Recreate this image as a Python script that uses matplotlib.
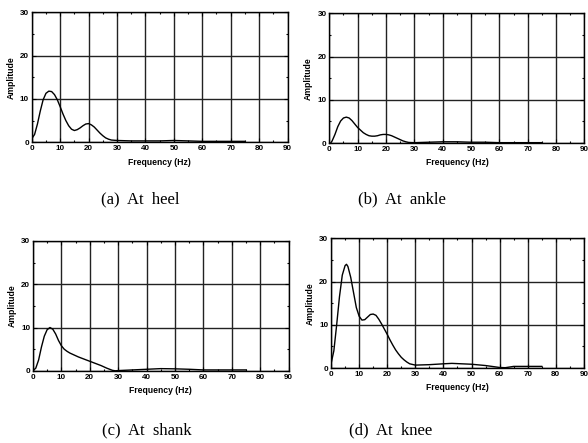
import matplotlib.pyplot as plt
from matplotlib.ticker import MultipleLocator

# frequency / amplitude
heel_f = [0, 1, 2, 3, 4, 5, 6, 7, 8, 9, 10, 11, 12, 13, 14, 15, 16, 17, 18, 19, 20,
          21, 22, 23, 24, 25, 26, 27, 28, 30, 35, 40, 45, 50, 55, 60, 65, 70, 75]
heel_a = [0.8, 1.8, 4.2, 7.2, 9.8, 11.3, 11.8, 11.7, 11.0, 9.8, 8.2, 6.5, 5.0, 3.8, 3.0,
          2.7, 2.9, 3.3, 3.8, 4.2, 4.3, 4.0, 3.5, 2.8, 2.1, 1.5, 1.0, 0.7, 0.5, 0.4, 0.3,
          0.3, 0.3, 0.4, 0.3, 0.2, 0.2, 0.2, 0.2]

ankle_f = [0.5, 1, 2, 3, 4, 5, 6, 7, 8, 9, 10, 11, 12, 13, 14, 15, 16, 17, 18, 19, 20,
           21, 22, 23, 24, 25, 26, 27, 28, 30, 35, 40, 45, 50, 55, 60, 65, 70, 75]
ankle_a = [0, 0.5, 2.0, 3.8, 5.1, 5.8, 6.0, 5.8, 5.2, 4.4, 3.6, 3.0, 2.4, 2.0, 1.7, 1.6,
           1.6, 1.7, 1.9, 2.0, 2.0, 1.9, 1.7, 1.4, 1.1, 0.8, 0.5, 0.3, 0.15, 0.1, 0.2,
           0.3, 0.3, 0.2, 0.2, 0.1, 0.1, 0.1, 0.1]

shank_f = [0, 1, 2, 3, 4, 5, 6, 7, 8, 9, 10, 11, 12, 13, 14, 15, 16, 18, 20, 22, 24,
           26, 28, 29, 30, 35, 40, 45, 50, 55, 60, 65, 70, 75]
shank_a = [0, 0.6, 2.5, 5.5, 8.0, 9.5, 10.0, 9.6, 8.5, 7.0, 5.8, 5.0, 4.5, 4.1, 3.8,
           3.5, 3.2, 2.7, 2.2, 1.7, 1.2, 0.6, 0.1, 0, 0.05, 0.2, 0.35, 0.5, 0.45, 0.35,
           0.2, 0.2, 0.2, 0.2]

knee_f = [0, 1, 2, 3, 4, 5, 5.5, 6, 7, 8, 9, 10, 11, 12, 13, 14, 15, 16, 17, 18, 19,
          20, 21, 22, 23, 24, 25, 26, 27, 28, 30, 35, 40, 43, 50, 55, 60, 62, 65, 70, 75]
knee_a = [1, 4, 10, 16.5, 21.5, 23.7, 24, 23.5, 21, 17.5, 14, 12, 11.1, 11.2, 11.8,
          12.4, 12.5, 12.2, 11.3, 10.2, 9, 7.8, 6.5, 5.3, 4.2, 3.3, 2.5, 1.9, 1.4, 1.0,
          0.7, 0.8, 1.0, 1.1, 0.9, 0.6, 0.15, 0.1, 0.4, 0.4, 0.4]

captions = ["(a)  At  heel", "(b)  At  ankle", "(c)  At  shank", "(d)  At  knee"]
series = [(heel_f, heel_a), (ankle_f, ankle_a), (shank_f, shank_a), (knee_f, knee_a)]

boxes = [
    [0.054, 0.679, 0.435, 0.293],
    [0.560, 0.677, 0.434, 0.293],
    [0.056, 0.163, 0.435, 0.293],
    [0.563, 0.169, 0.430, 0.293],
]
caption_xy = [(0.238, 0.549), (0.684, 0.549), (0.250, 0.029), (0.665, 0.029)]

fig = plt.figure(figsize=(5.88, 4.43), dpi=100)
sans = ["Liberation Sans", "DejaVu Sans"]

for box, (f, a), cap, cxy in zip(boxes, series, captions, caption_xy):
    ax = fig.add_axes(box)
    ax.plot(f, a, color="black", lw=1.0)
    ax.set_xlim(0, 90)
    ax.set_ylim(0, 30)
    ax.xaxis.set_major_locator(MultipleLocator(10))
    ax.xaxis.set_minor_locator(MultipleLocator(5))
    ax.yaxis.set_major_locator(MultipleLocator(10))
    ax.yaxis.set_minor_locator(MultipleLocator(5))
    ax.grid(True, which="major", color="#222222", lw=1.0)
    ax.tick_params(which="both", direction="in", top=True, right=True,
                   labelsize=5.8, pad=2, width=0.8)
    ax.tick_params(which="major", length=3)
    ax.tick_params(which="minor", length=1.5)
    for lab in ax.get_xticklabels() + ax.get_yticklabels():
        lab.set_fontweight("bold")
        lab.set_family(sans)
    for sp in ax.spines.values():
        sp.set_linewidth(1.0)
    ax.set_xlabel("Frequency (Hz)", fontsize=6.2, fontweight="bold", family=sans, labelpad=4)
    ax.set_ylabel("Amplitude", fontsize=6.2, fontweight="bold", family=sans, labelpad=3)
    fig.text(cxy[0], cxy[1], cap, ha="center", va="center", fontsize=12,
             family=["Liberation Serif", "DejaVu Serif"])

fig.savefig("out.png", dpi=100)
